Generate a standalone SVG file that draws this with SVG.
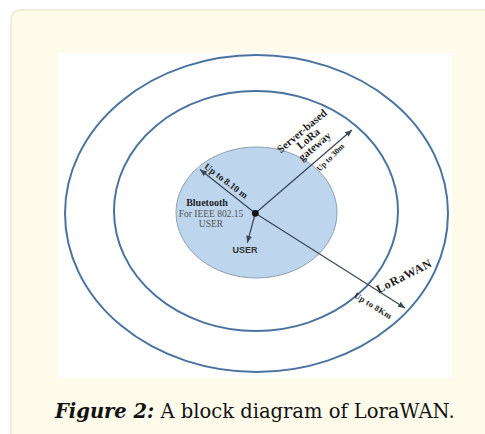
<svg xmlns="http://www.w3.org/2000/svg" width="485" height="434" viewBox="0 0 485 434">
<style>
.ring{fill:none;stroke:#4a73a0;stroke-width:2}
.con{stroke:#3a4858;stroke-width:1.3;fill:none}
.lbl{font-family:"Liberation Serif","Times New Roman",serif;font-weight:bold;fill:#1e1e1e;text-anchor:middle}
.reg{font-family:"Liberation Serif","Times New Roman",serif;fill:#555;text-anchor:middle}
</style>
<defs>
<marker id="ah" markerUnits="userSpaceOnUse" markerWidth="9" markerHeight="8" refX="7" refY="3" orient="auto">
<path d="M0,0 L7,3 L0,6 z" fill="#3a4858"/>
</marker>
</defs>
<rect x="11" y="10" width="490" height="440" rx="9" fill="#fefbea" stroke="#ece7d5" stroke-width="1.5"/>
<rect x="58" y="53" width="394" height="325" fill="#ffffff"/>
<g id="lorawan-zone">
<ellipse class="ring" cx="256.5" cy="213.5" rx="191.5" ry="158.5"/>
</g>
<g id="gateway-zone">
<ellipse class="ring" cx="256" cy="211" rx="142" ry="120"/>
</g>
<g id="bluetooth-zone">
<ellipse cx="256.5" cy="212.5" rx="80.5" ry="65.5" fill="#bdd6ee" stroke="#8e9fb0" stroke-width="1"/>
<text class="lbl" x="207" y="205.5" font-size="10">Bluetooth</text>
<text class="reg" x="211" y="216.5" font-size="9.5">For IEEE 802.15</text>
<text class="reg" x="211" y="226.5" font-size="9.5">USER</text>
</g>
<g id="connectors">
<line class="con" x1="255.3" y1="213.3" x2="200" y2="169.5" marker-end="url(#ah)"/>
<line class="con" x1="255.3" y1="213.3" x2="352" y2="130" marker-end="url(#ah)"/>
<line class="con" x1="255.3" y1="213.3" x2="405" y2="308" marker-end="url(#ah)"/>
<line class="con" x1="255.3" y1="213.3" x2="247.3" y2="242.7" marker-end="url(#ah)"/>
<text class="lbl" font-size="9.5" transform="translate(226,181) rotate(37)" y="3">Up to 8.10 m</text>
<text class="lbl" font-size="8" transform="translate(330.5,157.5) rotate(-45)" y="2.5">Up to 30m</text>
<text class="lbl" font-size="8.5" letter-spacing="0.3" transform="translate(373,306) rotate(32)" y="2.5">Up to 8Km</text>
</g>
<g id="center">
<circle cx="255.3" cy="213.3" r="3.4" fill="#111"/>
</g>
<g id="gateway-label">
<text class="lbl" font-size="11" transform="translate(302,131) rotate(-40)" y="3.5">Server-based</text>
<text class="lbl" font-size="11" transform="translate(308.4,138.7) rotate(-40)" y="3.5">LoRa</text>
<text class="lbl" font-size="11" transform="translate(314.8,146.4) rotate(-40)" y="3.5">gateway</text>
</g>
<g id="lorawan-label">
<text class="lbl" font-size="12" letter-spacing="0.6" transform="translate(404,276) rotate(-27)" y="4">LoRaWAN</text>
</g>
<g id="user">
<text x="245" y="252.7" font-family="Liberation Sans, Arial, sans-serif" font-weight="bold" font-size="9" fill="#333" text-anchor="middle">USER</text>
</g>
<text x="55" y="418" font-family="DejaVu Serif, serif" font-size="19.5" fill="#111"><tspan font-weight="bold" font-style="italic">Figure 2:</tspan> A block diagram of LoraWAN.</text>
</svg>
